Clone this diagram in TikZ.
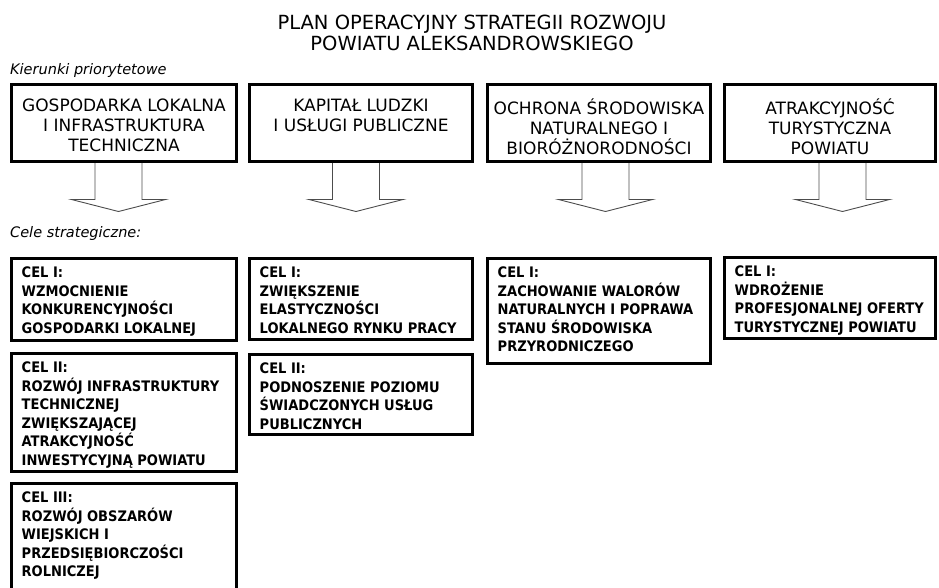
\documentclass[tikz,border=0pt]{standalone}
\usepackage{fontspec}
\setmainfont{DejaVu Sans Condensed}
\newfontfamily\szeroki{DejaVu Sans}
\usetikzlibrary{positioning,calc}

\begin{document}
\begin{tikzpicture}[x=1pt, y=-1pt,
    kier/.style={draw, line width=3pt, minimum height=77pt, inner sep=0pt},
    cel/.style={draw, line width=3pt, inner sep=0pt},
    ktxt/.style={anchor=north, align=center, inner sep=0pt,
        font=\szeroki\fontsize{17}{20}\selectfont, execute at begin node={\rule{0pt}{16pt}}},
    ctxt/.style={anchor=north west, align=left, inner sep=0pt,
        font=\bfseries\fontsize{14.5}{18.5}\selectfont, execute at begin node={\rule{0pt}{14pt}}},
    etyk/.style={anchor=base west, inner sep=0pt, font=\szeroki\itshape\fontsize{14.5}{16}\selectfont},
    strz/.style={draw=black!70, line width=0.9pt}]
    \clip (0,0) rectangle (939,587);

    % tytul
    \node[anchor=base, inner sep=0pt, font=\szeroki\fontsize{19.5}{22}\selectfont] (T1) at (472,29) {PLAN OPERACYJNY STRATEGII ROZWOJU};
    \node[anchor=base, inner sep=0pt, font=\szeroki\fontsize{19.5}{22}\selectfont] (T2) at (472,50) {POWIATU ALEKSANDROWSKIEGO};

    % kierunki priorytetowe
    \node[etyk] (Kier) at (10,74) {Kierunki priorytetowe};
    \node[kier, minimum width=225pt] (K1) at (124,123) {};
    \node[kier, minimum width=223pt] (K2) at (361,123) {};
    \node[kier, minimum width=223pt] (K3) at (599,123) {};
    \node[kier, minimum width=211pt] (K4) at (830,123) {};
    \node[ktxt] (K1t) at ($(K1.north)+(0,16)$) {GOSPODARKA LOKALNA\\I INFRASTRUKTURA\\TECHNICZNA};
    \node[ktxt] (K2t) at ($(K2.north)+(0,16)$) {KAPITAŁ LUDZKI\\I USŁUGI PUBLICZNE};
    \node[ktxt] (K3t) at ($(K3.north)+(0,16)$) {OCHRONA ŚRODOWISKA\\NATURALNEGO I\\BIORÓŻNORODNOŚCI};
    \node[ktxt] (K4t) at ($(K4.north)+(0,16)$) {ATRAKCYJNOŚĆ\\TURYSTYCZNA\\POWIATU};

    % strzalki
    \foreach \k/\d in {K1/-5.5, K2/-5, K3/6.5, K4/12.5}
        \draw[strz] ($(\k.south)+(\d-23.5,0)$) -- ++(0,36.5) -- ++(-23.5,0) -- ++(47,12)
            -- ++(47,-12) -- ++(-23.5,0) -- ++(0,-36.5);

    % cele strategiczne
    \node[etyk] (Cele) at (10,237) {Cele strategiczne:};
    \node[cel, minimum width=225pt, minimum height=82pt] (G1a) at (124,299.5) {};
    \node[cel, minimum width=225pt, minimum height=118pt] (G1b) at (124,412.5) {};
    \node[cel, minimum width=225pt, minimum height=115pt] (G1c) at (124,541) {};
    \node[cel, minimum width=223pt, minimum height=81pt] (G2a) at (361,299) {};
    \node[cel, minimum width=223pt, minimum height=80pt] (G2b) at (361,394.5) {};
    \node[cel, minimum width=223pt, minimum height=105pt] (G3a) at (599,311) {};
    \node[cel, minimum width=211pt, minimum height=81pt] (G4a) at (830,298) {};

    \node[ctxt] (G1at) at ($(G1a.north west)+(11.5,10)$) {CEL I:\\WZMOCNIENIE\\KONKURENCYJNOŚCI\\GOSPODARKI LOKALNEJ};
    \node[ctxt] (G1bt) at ($(G1b.north west)+(11.5,10)$) {CEL II:\\ROZWÓJ INFRASTRUKTURY\\TECHNICZNEJ\\ZWIĘKSZAJĄCEJ\\ATRAKCYJNOŚĆ\\INWESTYCYJNĄ POWIATU};
    \node[ctxt] (G1ct) at ($(G1c.north west)+(11.5,10)$) {CEL III:\\ROZWÓJ OBSZARÓW\\WIEJSKICH I\\PRZEDSIĘBIORCZOŚCI\\ROLNICZEJ};
    \node[ctxt] (G2at) at ($(G2a.north west)+(11.5,10)$) {CEL I:\\ZWIĘKSZENIE\\ELASTYCZNOŚCI\\LOKALNEGO RYNKU PRACY};
    \node[ctxt] (G2bt) at ($(G2b.north west)+(11.5,10)$) {CEL II:\\PODNOSZENIE POZIOMU\\ŚWIADCZONYCH USŁUG\\PUBLICZNYCH};
    \node[ctxt] (G3at) at ($(G3a.north west)+(11.5,10)$) {CEL I:\\ZACHOWANIE WALORÓW\\NATURALNYCH I POPRAWA\\STANU ŚRODOWISKA\\PRZYRODNICZEGO};
    \node[ctxt] (G4at) at ($(G4a.north west)+(11.5,10)$) {CEL I:\\WDROŻENIE\\PROFESJONALNEJ OFERTY\\TURYSTYCZNEJ POWIATU};
\end{tikzpicture}
\end{document}
